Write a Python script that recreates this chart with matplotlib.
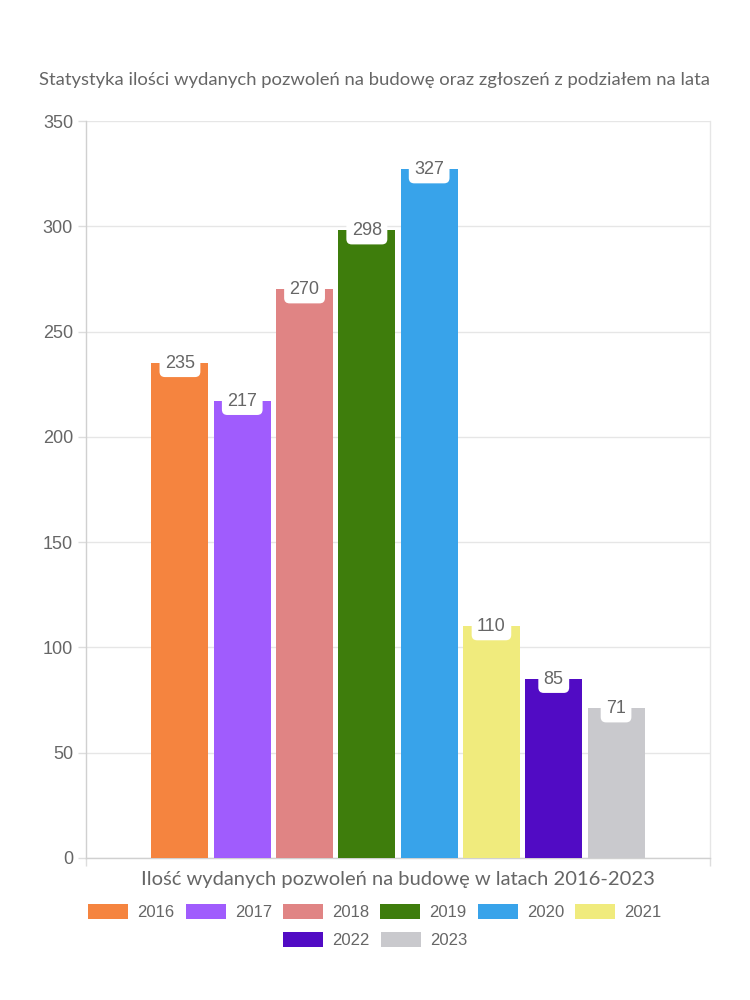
import matplotlib
matplotlib.use("Agg")
import matplotlib.pyplot as plt
import numpy as np

years = ["2016", "2017", "2018", "2019", "2020", "2021", "2022", "2023"]
values = [235, 217, 270, 298, 327, 110, 85, 71]
colors = ["#F5843F", "#A05CFD", "#E08484", "#3E7D0C", "#38A3EA", "#F0EB7D", "#510BC4", "#C9C9CD"]
yticks = [0, 50, 100, 150, 200, 250, 300, 350]
title = "Statystyka ilości wydanych pozwoleń na budowę oraz zgłoszeń z podziałem na lata"
xlabel = "Ilość wydanych pozwoleń na budowę w latach 2016-2023"

TXT = "#666666"
NUMFONT = "Liberation Sans"
TFONT = "Lato"

W, H = 750, 1000
fig = plt.figure(figsize=(7.5, 10), dpi=100)
ax = fig.add_axes([86 / W, 1 - 858 / H, (710 - 86) / W, (858 - 121) / H])

n = len(values)
slot = 62.3 / 624
bw = 57 / 624
pos = (np.arange(n) - (n - 1) / 2) * slot
bars = ax.bar(pos, values, width=bw, color=colors, zorder=3, edgecolor="none")

ax.set_xlim(-0.5, 0.5)
ax.set_ylim(0, 350)
ax.set_yticks(yticks)
ax.set_yticklabels([str(t) for t in yticks], fontfamily=NUMFONT, fontsize=13, color=TXT)
ax.set_xticks([-0.5, 0.5])
ax.set_xticklabels(["", ""])
ax.tick_params(axis="y", length=5.8, width=1, color="#dddddd", pad=3.5)
ax.tick_params(axis="x", length=5.8, width=1, color="#dddddd")
ax.grid(axis="y", color="#e6e6e6", linewidth=1, zorder=0)
ax.spines["top"].set_visible(False)
ax.spines["right"].set_color("#e6e6e6")
ax.spines["left"].set_color("#d0d0d0")
ax.spines["bottom"].set_color("#d0d0d0")
for s in ax.spines.values():
    s.set_linewidth(1)

for x, v in zip(pos, values):
    ax.text(x, v, str(v), ha="center", va="center", fontsize=13, fontfamily=NUMFONT,
            color=TXT, zorder=5,
            bbox=dict(boxstyle="round,pad=0.3,rounding_size=0.3", facecolor="white",
                      edgecolor="none"))

renderer = fig.canvas.get_renderer()

def fit_text(x, y, s, target_w, family, size0=12):
    t = fig.text(x, y, s, ha="center", va="center", fontsize=size0, fontfamily=family, color=TXT)
    w = t.get_window_extent(renderer=renderer).width
    t.set_fontsize(size0 * target_w / w)
    return t

fit_text((40 + 709) / 2 / W, 1 - 80 / H, title, 669, TFONT)
fit_text(398 / W, 1 - 880 / H, xlabel, 513, TFONT)

handles = list(bars)
common = dict(frameon=False, handlelength=2.4, handleheight=1.05, handletextpad=0.55,
              columnspacing=0.66, borderaxespad=0, borderpad=0,
              prop={"family": NUMFONT, "size": 12}, labelcolor=TXT)
fig.legend(handles[:6], years[:6], loc="center", bbox_to_anchor=(0.5, 1 - 912 / H), ncol=6, **common)
fig.legend(handles[6:], years[6:], loc="center", bbox_to_anchor=(0.5, 1 - 940 / H), ncol=2, **common)

fig.savefig("out.png", dpi=100, facecolor="white")
